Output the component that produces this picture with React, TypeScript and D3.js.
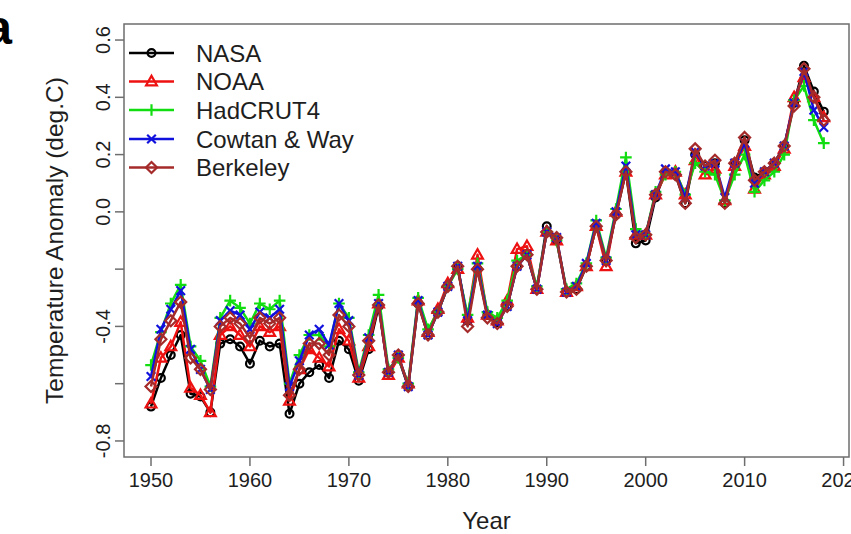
import React from "react";
import * as d3 from "d3";

const years: number[] = d3.range(1950, 2019);

const nasa = [
  -0.68, -0.58, -0.50, -0.43, -0.635, -0.645, -0.70, -0.46, -0.445, -0.47,
  -0.53, -0.45, -0.47, -0.46, -0.705, -0.60, -0.56, -0.535, -0.58, -0.45,
  -0.48, -0.59, -0.48, -0.33, -0.56, -0.51, -0.61, -0.32, -0.43, -0.35,
  -0.26, -0.19, -0.38, -0.20, -0.36, -0.385, -0.33, -0.19, -0.15, -0.27,
  -0.05, -0.10, -0.28, -0.27, -0.19, -0.05, -0.17, -0.01, 0.14, -0.11,
  -0.10, 0.05, 0.14, 0.13, 0.03, 0.20, 0.16, 0.17, 0.03, 0.17,
  0.25, 0.12, 0.14, 0.17, 0.23, 0.38, 0.51, 0.42, 0.35,
];
const noaa = [
  -0.67, -0.51, -0.47, -0.385, -0.615, -0.64, -0.70, -0.43, -0.40, -0.43,
  -0.47, -0.40, -0.42, -0.40, -0.66, -0.55, -0.48, -0.51, -0.54, -0.41,
  -0.45, -0.58, -0.47, -0.32, -0.57, -0.51, -0.60, -0.31, -0.42, -0.34,
  -0.25, -0.20, -0.37, -0.15, -0.36, -0.38, -0.31, -0.13, -0.12, -0.27,
  -0.07, -0.10, -0.28, -0.26, -0.19, -0.05, -0.19, 0.00, 0.14, -0.08,
  -0.08, 0.06, 0.13, 0.14, 0.06, 0.18, 0.13, 0.15, 0.04, 0.16,
  0.23, 0.08, 0.13, 0.16, 0.22, 0.40, 0.47, 0.40, 0.33,
];
const hadcrut4 = [
  -0.535, -0.42, -0.32, -0.255, -0.47, -0.52, -0.61, -0.37, -0.31, -0.335,
  -0.39, -0.32, -0.34, -0.31, -0.60, -0.50, -0.43, -0.43, -0.47, -0.32,
  -0.37, -0.56, -0.43, -0.29, -0.55, -0.51, -0.60, -0.30, -0.41, -0.35,
  -0.26, -0.20, -0.36, -0.18, -0.35, -0.37, -0.31, -0.17, -0.15, -0.26,
  -0.07, -0.10, -0.27, -0.25, -0.18, -0.03, -0.16, 0.01, 0.19, -0.06,
  -0.08, 0.07, 0.13, 0.14, 0.06, 0.17, 0.14, 0.13, 0.04, 0.13,
  0.20, 0.07, 0.11, 0.14, 0.20, 0.39, 0.44, 0.32, 0.24,
];
const cowtanWay = [
  -0.575, -0.41, -0.34, -0.275, -0.48, -0.55, -0.62, -0.38, -0.345, -0.36,
  -0.41, -0.35, -0.37, -0.34, -0.61, -0.52, -0.43, -0.41, -0.465, -0.32,
  -0.38, -0.57, -0.44, -0.32, -0.56, -0.50, -0.61, -0.31, -0.43, -0.35,
  -0.26, -0.19, -0.38, -0.19, -0.36, -0.39, -0.33, -0.19, -0.15, -0.27,
  -0.07, -0.09, -0.28, -0.26, -0.18, -0.04, -0.17, 0.00, 0.16, -0.08,
  -0.08, 0.06, 0.15, 0.14, 0.05, 0.21, 0.16, 0.17, 0.05, 0.17,
  0.24, 0.10, 0.14, 0.17, 0.23, 0.38, 0.49, 0.355, 0.295,
];
const berkeley = [
  -0.61, -0.445, -0.38, -0.315, -0.51, -0.55, -0.62, -0.40, -0.37, -0.39,
  -0.44, -0.37, -0.39, -0.37, -0.64, -0.55, -0.46, -0.46, -0.50, -0.36,
  -0.40, -0.57, -0.45, -0.325, -0.56, -0.50, -0.61, -0.32, -0.43, -0.35,
  -0.26, -0.19, -0.40, -0.20, -0.37, -0.39, -0.33, -0.19, -0.15, -0.27,
  -0.07, -0.09, -0.28, -0.27, -0.19, -0.05, -0.17, -0.01, 0.14, -0.09,
  -0.08, 0.06, 0.14, 0.13, 0.03, 0.22, 0.16, 0.18, 0.03, 0.17,
  0.26, 0.11, 0.14, 0.17, 0.23, 0.37, 0.50, 0.40, 0.32,
];

const seriesNames = ["NASA", "NOAA", "HadCRUT4", "Cowtan & Way", "Berkeley"];
const seriesValues = [nasa, noaa, hadcrut4, cowtanWay, berkeley];
const seriesColors = ["#000000", "#ee1111", "#11dd11", "#1111dd", "#a52a2a"];
const seriesShapes = ["circle", "triangle", "plus", "cross", "diamond"];

const xTicks = [1950, 1960, 1970, 1980, 1990, 2000, 2010, 2020];
const yTicks = [-0.8, -0.6, -0.4, -0.2, 0.0, 0.2, 0.4, 0.6];
const yTickLabels = ["-0.8", "", "-0.4", "", "0.0", "0.2", "0.4", "0.6"];

const W = 851;
const H = 534;
const left = 124;
const right = 849;
const top = 24;
const bottom = 457;

const FONT = "'Liberation Sans', Arial, sans-serif";
const TXT = "#1e1e1e";
const AX = "#6e6e6e";

function Marker({ shape, cx, cy, color }: { shape: string; cx: number; cy: number; color: string }) {
  const sw = 2.2;
  if (shape === "circle") {
    return <circle cx={cx} cy={cy} r={3.9} fill="none" stroke={color} strokeWidth={sw} />;
  }
  if (shape === "triangle") {
    const s = 5.4;
    const p = `M${cx},${cy - s * 1.05} L${cx + s},${cy + s * 0.7} L${cx - s},${cy + s * 0.7} Z`;
    return <path d={p} fill="none" stroke={color} strokeWidth={sw} />;
  }
  if (shape === "plus") {
    const s = 5.8;
    return (
      <path d={`M${cx - s},${cy} L${cx + s},${cy} M${cx},${cy - s} L${cx},${cy + s}`} stroke={color} strokeWidth={sw} />
    );
  }
  if (shape === "cross") {
    const s = 4.3;
    return (
      <path d={`M${cx - s},${cy - s} L${cx + s},${cy + s} M${cx - s},${cy + s} L${cx + s},${cy - s}`} stroke={color} strokeWidth={sw} />
    );
  }
  const s = 5.5;
  return (
    <path d={`M${cx},${cy - s} L${cx + s},${cy} L${cx},${cy + s} L${cx - s},${cy} Z`} fill="none" stroke={color} strokeWidth={sw} />
  );
}

export default function App() {
  const x = d3.scaleLinear().domain([1947.27, 2020.55]).range([left, right]);
  const y = d3.scaleLinear().domain([-0.856, 0.656]).range([bottom, top]);

  const line = d3
    .line<number>()
    .x((_, i) => x(years[i]))
    .y((d) => y(d));

  const legendY = [53, 81.5, 110, 139, 167.5];

  return (
    <svg
      width={W}
      height={H}
      style={{ position: "absolute", left: 0, top: 0, background: "#fff" }}
      fontFamily={FONT}
    >
      <rect x={0} y={0} width={W} height={H} fill="#fff" />
      {/* panel letter */}
      <text x={12} y={44} textAnchor="end" fontSize={48} fontWeight="bold" fill="#000" fontFamily={FONT}>
        a
      </text>

      {/* series */}
      {seriesValues.map((vals, si) => (
        <g key={seriesNames[si]}>
          <path d={line(vals) || ""} fill="none" stroke={seriesColors[si]} strokeWidth={2.5} strokeLinejoin="round" />
          {vals.map((v, i) => (
            <Marker key={i} shape={seriesShapes[si]} cx={x(years[i])} cy={y(v)} color={seriesColors[si]} />
          ))}
        </g>
      ))}

      {/* box */}
      <rect x={left} y={top} width={right - left} height={bottom - top} fill="none" stroke={AX} strokeWidth={1.5} />

      {/* x axis */}
      {xTicks.map((t) => (
        <g key={t}>
          <line x1={x(t)} x2={x(t)} y1={bottom} y2={bottom + 9} stroke={AX} strokeWidth={1.5} />
          <text x={x(t)} y={487} textAnchor="middle" fontSize={20} fill={TXT}>
            {t}
          </text>
        </g>
      ))}
      <text x={(left + right) / 2} y={529} textAnchor="middle" fontSize={24} fill={TXT}>
        Year
      </text>

      {/* y axis */}
      {yTicks.map((t, i) => (
        <g key={t}>
          <line x1={left - 9} x2={left} y1={y(t)} y2={y(t)} stroke={AX} strokeWidth={1.5} />
          {yTickLabels[i] && (
            <text
              transform={`translate(110,${y(t)}) rotate(-90)`}
              textAnchor="middle"
              fontSize={20}
              fill={TXT}
            >
              {yTickLabels[i]}
            </text>
          )}
        </g>
      ))}
      <text
        transform={`translate(63,${(top + bottom) / 2}) rotate(-90)`}
        textAnchor="middle"
        fontSize={24.5}
        fill={TXT}
      >
        Temperature Anomaly (deg.C)
      </text>

      {/* legend */}
      {seriesNames.map((n, i) => (
        <g key={n}>
          <line x1={129} x2={174} y1={legendY[i]} y2={legendY[i]} stroke={seriesColors[i]} strokeWidth={2.5} />
          <Marker shape={seriesShapes[i]} cx={151.5} cy={legendY[i]} color={seriesColors[i]} />
          <text x={196} y={legendY[i]} dominantBaseline="central" fontSize={24} fill={TXT}>
            {n}
          </text>
        </g>
      ))}
    </svg>
  );
}
